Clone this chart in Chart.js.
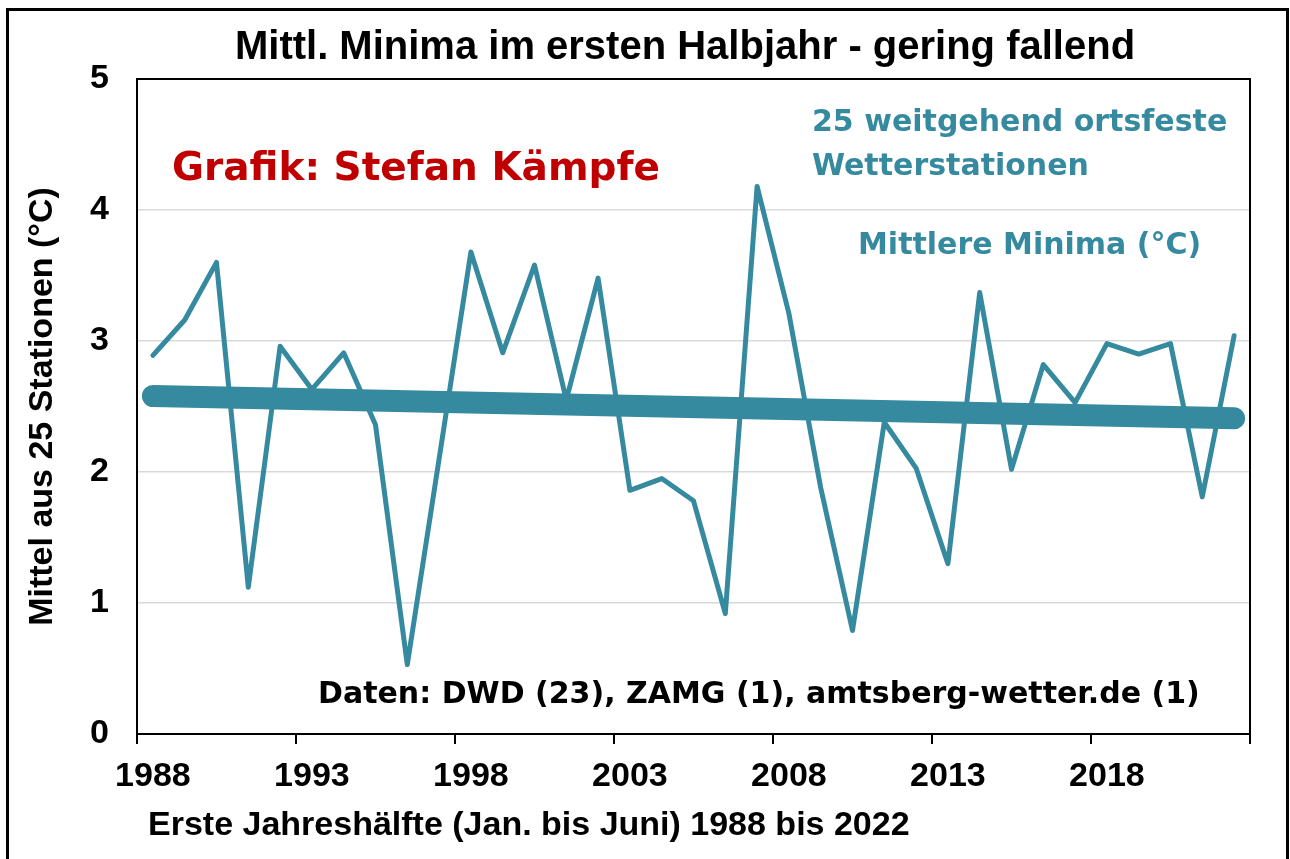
<!DOCTYPE html>
<html>
<head>
<meta charset="utf-8">
<title>Mittl. Minima im ersten Halbjahr</title>
<script src="https://cdn.jsdelivr.net/npm/chart.js@4.4.0/dist/chart.umd.min.js"></script>
<style>
  html, body { margin: 0; padding: 0; background: #fff; }
  #wrap { width: 1290px; height: 859px; position: relative; }
</style>
</head>
<body>
<div id="wrap"><canvas id="chart"></canvas></div>
<script>
// ? Data
// ? ==================================
const years = [
  "1988", "1989", "1990", "1991", "1992", "1993", "1994", "1995", "1996", "1997",
  "1998", "1999", "2000", "2001", "2002", "2003", "2004", "2005", "2006", "2007",
  "2008", "2009", "2010", "2011", "2012", "2013", "2014", "2015", "2016", "2017",
  "2018", "2019", "2020", "2021", "2022",
];
const minima = [
  2.89, 3.16, 3.60, 1.12, 2.96, 2.63, 2.91, 2.36, 0.53, 2.10,
  3.68, 2.91, 3.58, 2.55, 3.48, 1.86, 1.95, 1.78, 0.92, 4.18,
  3.21, 1.88, 0.79, 2.38, 2.03, 1.30, 3.37, 2.02, 2.82, 2.53,
  2.98, 2.90, 2.98, 1.81, 3.04,
];
// trend line: only its two end values, the rest is spanned
const trendStart = 2.58;
const trendEnd = 2.41;
const yTicks = [0, 1, 2, 3, 4, 5];

const TEAL = "#368a9f";
const chartTitle = "Mittl. Minima im ersten Halbjahr - gering fallend";

const trend = years.map((y, i) =>
  i === 0 ? trendStart : i === years.length - 1 ? trendEnd : null
);

// & Frame + free texts
// & ============================
const framePlugin = {
  id: "frame",
  afterDraw(chart) {
    const { ctx, chartArea: a } = chart;
    ctx.save();
    // plot border top / right (right one runs into the tick row)
    ctx.strokeStyle = "#000";
    ctx.lineWidth = 2;
    ctx.beginPath();
    ctx.moveTo(a.left, a.top);
    ctx.lineTo(a.right, a.top);
    ctx.lineTo(a.right, a.bottom + 10);
    ctx.stroke();
    // outer frame
    ctx.lineWidth = 3;
    ctx.strokeRect(7.5, 9.5, 1280, 870);

    ctx.textBaseline = "middle";
    ctx.fillStyle = "#000";
    ctx.textAlign = "center";
    ctx.font = 'bold 40px "Liberation Sans"';
    ctx.fillText(chartTitle, 685, 48);

    ctx.textAlign = "left";
    ctx.fillStyle = "#C00000";
    ctx.font = 'bold 39px "DejaVu Sans"';
    ctx.fillText("Grafik: Stefan Kämpfe", 172, 170);

    ctx.fillStyle = TEAL;
    ctx.font = 'bold 30px "DejaVu Sans"';
    ctx.fillText("25 weitgehend ortsfeste", 812, 123);
    ctx.fillText("Wetterstationen", 812, 167);
    ctx.fillText("Mittlere Minima (°C)", 858, 246);

    ctx.fillStyle = "#000";
    ctx.fillText("Daten: DWD (23), ZAMG (1), amtsberg-wetter.de (1)", 318, 695);

    ctx.font = 'bold 34px "Liberation Sans"';
    ctx.fillText("Erste Jahreshälfte (Jan. bis Juni) 1988 bis 2022", 148, 826);
    ctx.restore();
  },
};

// * Chart
// * ============================
const ctx = document.getElementById("chart").getContext("2d");
new Chart(ctx, {
  type: "line",
  data: {
    labels: years,
    datasets: [
      {
        label: "Mittlere Minima (°C)",
        data: minima,
        borderColor: TEAL,
        borderWidth: 5,
        borderJoinStyle: "round",
        borderCapStyle: "round",
        pointRadius: 0,
        tension: 0,
        fill: false,
      },
      {
        label: "Trend",
        data: trend,
        spanGaps: true,
        borderColor: TEAL,
        borderWidth: 22,
        borderCapStyle: "round",
        pointRadius: 0,
        tension: 0,
        fill: false,
      },
    ],
  },
  options: {
    responsive: true,
    maintainAspectRatio: false,
    animation: false,
    layout: { padding: { left: 0, right: 40, top: 79, bottom: 0 } },
    plugins: {
      legend: { display: false },
      tooltip: { enabled: false },
      title: { display: false },
    },
    scales: {
      x: {
        offset: true,
        afterFit(scale) { scale.height = 125; },
        border: { display: true, color: "#000", width: 2 },
        grid: {
          offset: true,
          drawOnChartArea: false,
          drawTicks: true,
          tickLength: 10,
          lineWidth: 2,
          color: (c) => (c.index % 5 === 0 ? "#000" : "rgba(0,0,0,0)"),
        },
        ticks: {
          autoSkip: false,
          maxRotation: 0,
          padding: 12,
          color: "#000",
          font: { family: "Liberation Sans", size: 34, weight: "bold" },
          callback: (v, i) => (i % 5 === 0 ? years[i] : ""),
        },
      },
      y: {
        min: yTicks[0],
        max: yTicks[yTicks.length - 1],
        afterFit(scale) { scale.width = 137; },
        afterBuildTicks(scale) { scale.ticks = yTicks.map((v) => ({ value: v })); },
        border: { display: true, color: "#000", width: 2 },
        grid: {
          drawTicks: false,
          lineWidth: 1.5,
          color: (c) =>
            c.tick && c.tick.value > yTicks[0] && c.tick.value < yTicks[yTicks.length - 1]
              ? "#d9d9d9"
              : "rgba(0,0,0,0)",
        },
        ticks: {
          padding: 28,
          color: "#000",
          font: { family: "Liberation Sans", size: 34, weight: "bold" },
        },
        title: {
          display: true,
          text: "Mittel aus 25 Stationen (°C)",
          color: "#000",
          font: { family: "Liberation Sans", size: 34, weight: "bold" },
          padding: { top: 22, bottom: 0 },
        },
      },
    },
  },
  plugins: [framePlugin],
});
</script>
</body>
</html>
